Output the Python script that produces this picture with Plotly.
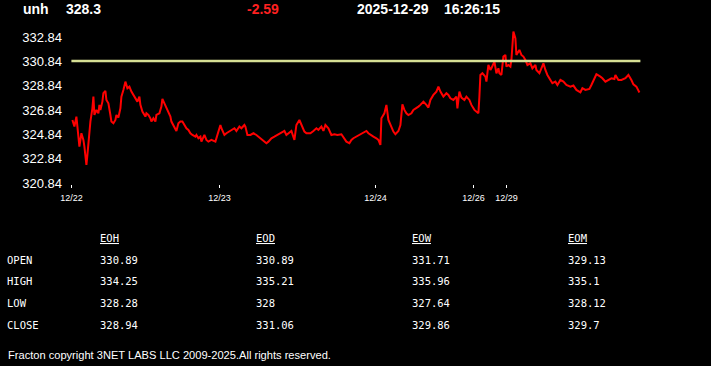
import plotly.graph_objects as go

# ---------------- data ----------------
symbol = "unh"
last_price = "328.3"
change = "-2.59"
stamp_date = "2025-12-29"
stamp_time = "16:26:15"

bar_idx = [1, 3, 5, 6, 8, 10, 12, 13, 15, 16, 18, 19, 21, 22, 23, 25, 27, 28, 29, 31, 32, 34, 35, 37, 39, 40,
           42, 44, 45, 47, 49, 50, 52, 54, 56, 58, 60, 62, 64, 66, 68, 69, 71, 74, 75, 77, 79, 80, 82, 84, 85,
           88, 90, 91, 93, 95, 97, 99, 100, 102, 104, 105, 107, 109, 111, 113, 115, 117, 119, 121, 124, 125,
           127, 129, 130, 133, 135, 137, 139,
           140, 144, 146, 149, 150, 153, 155, 158, 160, 163, 165, 168, 170, 173, 174, 176, 179, 182, 185, 189,
           192, 195, 197, 200, 203, 206, 210, 213, 215, 218, 220, 223, 225, 228, 230, 233, 235, 239, 242, 245,
           247, 250, 252, 254, 257, 260, 263, 266, 270, 273, 275, 278, 280,
           282, 285, 289, 292, 295, 297, 299, 302, 305, 307, 309, 310, 313, 315, 317, 319, 322, 324, 327, 329,
           331, 333, 335, 337, 340, 342, 345, 347, 349, 352, 355, 357, 359, 362, 365, 367, 369, 372, 375, 377,
           379, 382, 385, 386, 388, 390, 393, 395, 398, 400, 403, 405, 407, 408, 409, 411, 414, 415, 417, 419,
           420, 423, 425, 427,
           428, 430, 432, 434, 435, 437, 439, 440, 442, 444, 445, 446, 448, 450, 452, 454, 456, 459, 461, 464,
           465, 468, 470, 472, 474, 476, 479, 481, 484, 486, 489, 492, 495, 499, 502, 505, 509, 511, 514, 518,
           520, 523, 525, 529, 531, 534, 537, 540, 543, 544, 547, 550, 554, 557, 560, 562, 565, 567, 568]

price = [326.04, 325.50, 326.32, 325.63, 323.85, 324.95, 324.40, 323.85, 322.35, 323.17, 325.36, 325.91, 327.00,
         327.96, 326.45, 326.87, 326.59, 327.28, 326.87, 327.55, 328.24, 328.43, 327.69, 327.41, 326.45, 325.91,
         325.77, 326.04, 326.45, 326.24, 327.00, 327.96, 328.51, 329.19, 328.65, 328.78, 328.37, 328.10, 327.82,
         327.55, 327.96, 327.28, 326.73, 326.32, 326.59, 326.45, 326.18, 325.91, 326.18, 325.91, 326.45, 326.59,
         327.14, 327.77, 327.41, 327.00, 326.59, 326.32, 325.91, 325.63, 325.36, 325.14, 325.77, 325.91, 325.91,
         325.63, 325.36, 325.22, 324.95, 324.81, 324.67, 324.81, 324.54, 324.67, 324.26, 324.81, 324.40, 324.26,
         324.40,
         324.40, 324.26, 324.81, 325.63, 325.36, 324.81, 324.95, 325.09, 325.22, 325.36, 325.14, 325.50, 325.36,
         325.63, 325.50, 324.81, 324.81, 324.95, 324.81, 324.54, 324.40, 324.13, 324.26, 324.54, 324.67, 324.81,
         324.95, 325.14, 324.81, 325.03, 325.14, 324.40, 325.63, 326.04, 325.63, 325.09, 324.95, 324.95, 325.14,
         325.36, 325.22, 325.50, 325.14, 325.63, 325.36, 324.81, 324.87, 324.81, 324.87, 324.54, 324.26, 324.13,
         324.40,
         324.54, 324.67, 324.81, 324.95, 325.14, 324.95, 324.81, 324.67, 324.54, 324.40, 323.99, 326.18, 326.59,
         327.28, 326.04, 325.63, 325.09, 324.87, 325.14, 325.63, 327.33, 326.87, 326.59, 326.45, 326.59, 326.87,
         327.00, 327.14, 327.28, 327.55, 327.28, 327.06, 327.69, 328.10, 328.37, 328.78, 328.37, 327.96, 328.24,
         328.10, 327.82, 327.69, 327.96, 327.00, 328.37, 327.88, 327.69, 327.96, 327.69, 327.28, 326.87, 326.73,
         326.59, 327.96, 329.74, 329.88, 329.60, 329.19, 330.56, 330.15, 330.29, 330.84, 329.88, 330.29,
         329.88, 329.74, 331.25, 331.39, 330.43, 330.56, 330.43, 330.97, 333.30, 332.75, 331.39, 331.52, 331.80,
         331.39, 331.25, 330.97, 330.56, 330.70, 330.29, 330.56, 330.15, 329.88, 330.29, 330.70, 330.15, 329.74,
         329.33, 329.06, 329.19, 328.92, 329.33, 329.19, 328.92, 328.78, 328.87, 328.51, 328.32, 328.65, 328.51,
         328.59, 328.92, 329.47, 329.80, 329.60, 329.47, 329.19, 329.33, 329.47, 329.41, 329.74, 329.33, 329.33,
         329.47, 329.74, 329.33, 328.97, 328.78, 328.37, 328.30]

ref_level = 330.89
ref_span = [0, 569]

x_tick_pos = [0, 148, 304, 402, 435]
x_tick_text = ["12/22", "12/23", "12/24", "12/26", "12/29"]
y_tick_vals = [320.84, 322.84, 324.84, 326.84, 328.84, 330.84, 332.84]
y_tick_text = ["320.84", "322.84", "324.84", "326.84", "328.84", "330.84", "332.84"]

col_headers = ["EOH", "EOD", "EOW", "EOM"]
row_labels = ["OPEN", "HIGH", "LOW", "CLOSE"]
eoh_vals = ["330.89", "334.25", "328.28", "328.94"]
eod_vals = ["330.89", "335.21", "328", "331.06"]
eow_vals = ["331.71", "335.96", "327.64", "329.86"]
eom_vals = ["329.13", "335.1", "328.12", "329.7"]
copyright_text = "Fracton copyright 3NET LABS LLC 2009-2025.All rights reserved."

# ---------------- layout geometry ----------------
W, H = 711, 366
ML, MR, MT, MB = 71, 70, 28, 182
PW, PH = W - ML - MR, H - MT - MB


def px(xp):
    return (xp - ML) / PW


def py(yp):
    return (H - MB - yp) / PH


fig = go.Figure()
fig.add_trace(go.Scatter(x=bar_idx, y=price, mode="lines",
                         line=dict(color="#ff0000", width=2), hoverinfo="skip"))
fig.add_trace(go.Scatter(x=ref_span, y=[ref_level, ref_level], mode="lines",
                         line=dict(color="#d6df94", width=2.5), hoverinfo="skip"))

ann = []
hdr_font = dict(family="Liberation Sans, Arial", size=14, color="white")


def add_text(xp, yp, text, font, xanchor="left"):
    ann.append(dict(x=px(xp), y=py(yp), xref="paper", yref="paper", text=text,
                    showarrow=False, xanchor=xanchor, yanchor="middle", font=font,
                    borderpad=0))


add_text(22, 9, "<b>" + symbol + "</b>", hdr_font)
add_text(65, 9, "<b>" + last_price + "</b>", hdr_font)
add_text(246, 9, "<b>" + change + "</b>", dict(hdr_font, color="#ff2020"))
add_text(356, 9, "<b>" + stamp_date + "</b>", hdr_font)
add_text(443, 9, "<b>" + stamp_time + "</b>", hdr_font)

mono = dict(family="DejaVu Sans Mono", size=10.5, color="white")
col_x = [99, 255, 411, 567]
row_y = [259.5, 281, 302.5, 324.5]
columns = [eoh_vals, eod_vals, eow_vals, eom_vals]
for cx, hname in zip(col_x, col_headers):
    add_text(cx, 238, "<u>" + hname + "</u>", mono)
for ry, rl in zip(row_y, row_labels):
    add_text(6, ry, rl, mono)
for cx, vals in zip(col_x, columns):
    for ry, v in zip(row_y, vals):
        add_text(cx, ry, v, mono)

add_text(7, 355, copyright_text, dict(family="Liberation Sans, Arial", size=11.1, color="white"))

fig.update_layout(
    width=W, height=H,
    margin=dict(l=ML, r=MR, t=MT, b=MB),
    paper_bgcolor="black", plot_bgcolor="black",
    showlegend=False,
    annotations=ann,
    xaxis=dict(range=[-0.4, 569.6], showgrid=False, zeroline=False, showline=False,
               tickmode="array", tickvals=x_tick_pos, ticktext=x_tick_text,
               ticks="outside", ticklen=3, tickwidth=1, tickcolor="white",
               tickfont=dict(family="Liberation Sans, Arial", size=9, color="white"),
               ticklabelstandoff=2, fixedrange=True),
    yaxis=dict(range=[320.78, 333.60], showgrid=False, zeroline=False, showline=False,
               tickmode="array", tickvals=y_tick_vals, ticktext=y_tick_text,
               ticks="", ticklabelstandoff=8,
               tickfont=dict(family="Liberation Sans, Arial", size=13, color="white"),
               fixedrange=True),
)

fig.write_html("out.html", config={"displayModeBar": False})
